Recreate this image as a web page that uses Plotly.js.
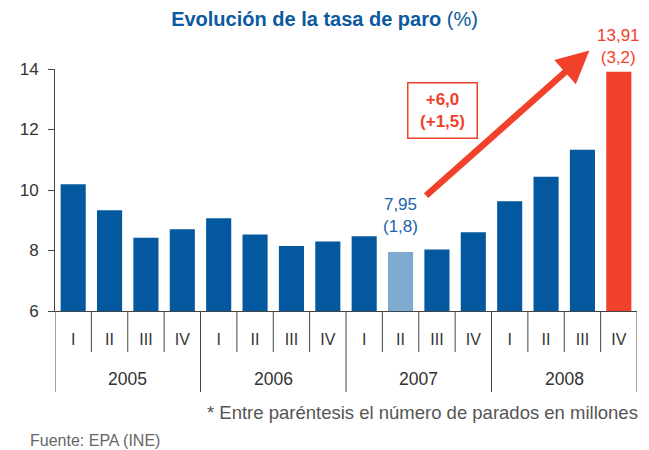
<!DOCTYPE html>
<html>
<head>
<meta charset="utf-8">
<script src="https://cdn.plot.ly/plotly-3.0.1.min.js"></script>
<style>
  html, body { margin: 0; padding: 0; background: #fff; }
  #chart { width: 649px; height: 450px; }
</style>
</head>
<body>
<div id="chart"></div>
<script>
// Data
const years = ['2005', '2006', '2007', '2008'];
const quarters = ['I', 'II', 'III', 'IV'];
const tasaParo = [10.19, 9.33, 8.42, 8.70, 9.07, 8.53, 8.15, 8.30, 8.47, 7.95, 8.03, 8.60, 9.63, 10.44, 11.33, 13.91];
const paradosLow = '(1,8)';
const paradosHigh = '(3,2)';
const diffTasa = '+6,0';
const diffParados = '(+1,5)';

const lowIdx = tasaParo.indexOf(Math.min(...tasaParo));
const lastIdx = tasaParo.length - 1;

const BLUE = '#03589f';
const LIGHT = '#7eaacf';
const RED = '#f1412b';
const FONT = '"Liberation Sans", Arial, sans-serif';

// x positions and labels built from the quarter/year lists
const xIdx = tasaParo.map((v, i) => i);
const tickText = xIdx.map(i => quarters[i % quarters.length]);
const barColors = xIdx.map(i => i === lastIdx ? RED : (i === lowIdx ? LIGHT : BLUE));

const fmt = v => v.toFixed(2).replace('.', ',');

const trace = {
  x: xIdx,
  y: tasaParo,
  type: 'bar',
  width: 0.69,
  marker: { color: barColors },
  hoverinfo: 'y'
};

// Separators under the axis: short ones per quarter, long ones per year
const shapes = [];
for (let i = 0; i <= tasaParo.length; i++) {
  const isYear = i % quarters.length === 0;
  shapes.push({
    type: 'line', xref: 'x', yref: 'paper',
    ysizemode: 'pixel', yanchor: 0,
    x0: i - 0.5, x1: i - 0.5, y0: 0, y1: isYear ? -81 : -41,
    line: { color: '#444', width: 1 }
  });
}

const annotations = [];
years.forEach((yr, k) => {
  annotations.push({
    xref: 'x', yref: 'paper', x: k * quarters.length + (quarters.length - 1) / 2, y: 0,
    yanchor: 'middle', yshift: -68, showarrow: false,
    text: yr, font: { family: FONT, size: 17.5, color: '#333' }
  });
});

annotations.push({
  xref: 'x', yref: 'y', x: lowIdx, y: tasaParo[lowIdx],
  yanchor: 'bottom', yshift: 14, showarrow: false,
  text: fmt(tasaParo[lowIdx]) + '<br>' + paradosLow,
  font: { family: FONT, size: 17, color: '#1a62a6' }
});
annotations.push({
  xref: 'x', yref: 'y', x: lastIdx, y: tasaParo[lastIdx],
  yanchor: 'bottom', yshift: 3, showarrow: false,
  text: fmt(tasaParo[lastIdx]) + '<br>' + paradosHigh,
  font: { family: FONT, size: 17, color: RED }
});
annotations.push({
  xref: 'x', yref: 'y', x: 10.14, y: 12.62,
  showarrow: false, width: 64, height: 50, borderpad: 2,
  bordercolor: RED, borderwidth: 1.5, bgcolor: '#fff',
  text: '<b>' + diffTasa + '</b><br><b>' + diffParados + '</b>',
  font: { family: FONT, size: 17, color: RED }
});
// arrow from the 2007-II value to the 2008-IV value
annotations.push({
  xref: 'x', yref: 'y', x: 14.19, y: 14.61,
  axref: 'x', ayref: 'y', ax: 9.66, ay: 9.77,
  showarrow: true, arrowhead: 2, arrowsize: 1, arrowwidth: 6.5,
  arrowcolor: RED, text: ''
});
annotations.push({
  xref: 'paper', yref: 'paper', x: 1, y: 0, xanchor: 'right',
  yanchor: 'middle', xshift: 3, yshift: -101, showarrow: false,
  text: '* Entre paréntesis el número de parados en millones',
  font: { family: FONT, size: 18.5, color: '#555' }
});
annotations.push({
  xref: 'paper', yref: 'paper', x: 0, y: 0, xanchor: 'left',
  yanchor: 'middle', xshift: -27, yshift: -129, showarrow: false,
  text: 'Fuente: EPA (INE)',
  font: { family: FONT, size: 16, color: '#666' }
});

const layout = {
  width: 649,
  height: 450,
  margin: { l: 55, r: 12, t: 69, b: 139 },
  paper_bgcolor: '#fff',
  plot_bgcolor: '#fff',
  showlegend: false,
  font: { family: FONT, color: '#333' },
  title: {
    text: '<b>Evolución de la tasa de paro</b> (%)',
    font: { family: FONT, size: 20, color: '#0a5aa0' },
    x: 0.5, xref: 'container', xanchor: 'center',
    y: 1 - 19 / 450, yref: 'container', yanchor: 'middle'
  },
  xaxis: {
    type: 'linear',
    range: [-0.5, tasaParo.length - 0.5],
    tickvals: xIdx,
    ticktext: tickText,
    ticks: '',
    showgrid: false,
    zeroline: false,
    showline: true,
    linecolor: '#444',
    linewidth: 1,
    ticklabelstandoff: 14,
    tickfont: { family: FONT, size: 16, color: '#333' },
    fixedrange: true
  },
  yaxis: {
    range: [6, 14],
    tickvals: [6, 8, 10, 12, 14],
    ticks: 'outside',
    ticklen: 6,
    tickcolor: '#444',
    showgrid: false,
    zeroline: false,
    showline: true,
    linecolor: '#444',
    linewidth: 1,
    ticklabelstandoff: 6,
    tickfont: { family: FONT, size: 17, color: '#333' },
    fixedrange: true
  },
  shapes: shapes,
  annotations: annotations
};

Plotly.newPlot('chart', [trace], layout, { displayModeBar: false, staticPlot: true });
</script>
</body>
</html>
